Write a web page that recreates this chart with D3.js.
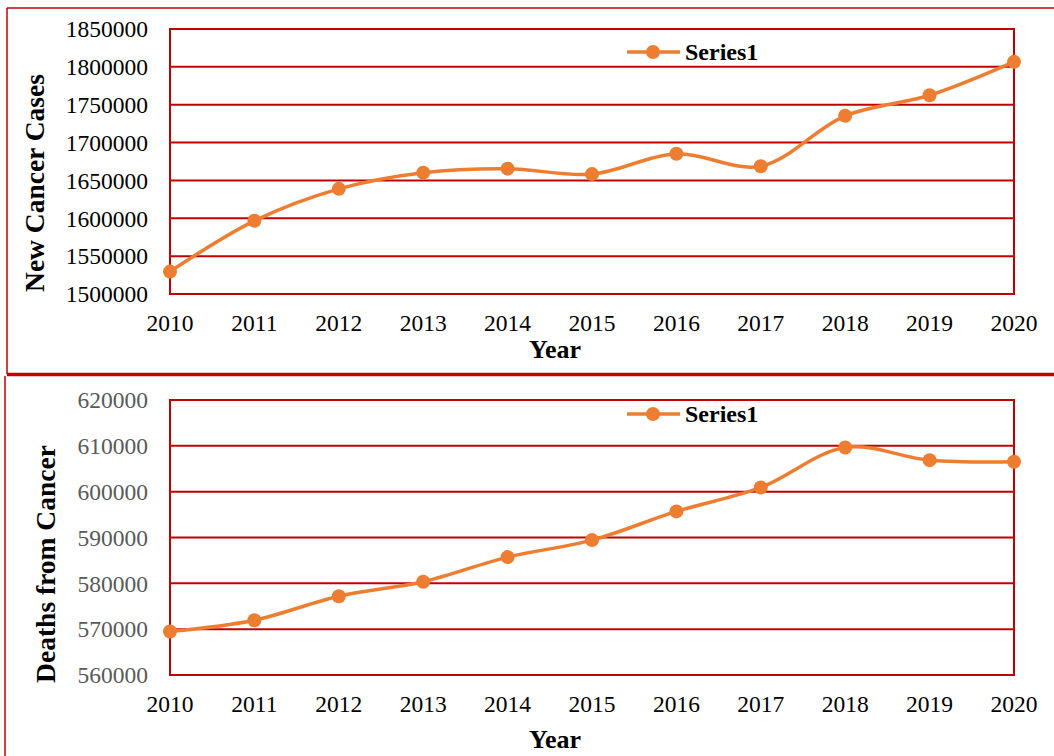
<!DOCTYPE html>
<html>
<head>
<meta charset="utf-8">
<script src="https://cdn.jsdelivr.net/npm/d3@7"></script>
<style>
  body { margin: 0; background: #fff; }
  svg text { font-family: "Liberation Serif", "Times New Roman", serif; }
</style>
</head>
<body>
<svg id="chart" width="1054" height="756"></svg>
<script>
/* data */
var years = [2010, 2011, 2012, 2013, 2014, 2015, 2016, 2017, 2018, 2019, 2020];
var newCases = [1529560, 1596670, 1638910, 1660290, 1665540, 1658370, 1685210, 1668780, 1735350, 1762450, 1806590];
var deaths = [569490, 571950, 577190, 580350, 585720, 589430, 595690, 600920, 609640, 606880, 606520];
var casesTicks = [1500000, 1550000, 1600000, 1650000, 1700000, 1750000, 1800000, 1850000];
var deathTicks = [560000, 570000, 580000, 590000, 600000, 610000, 620000];

var svg = d3.select('#chart');
var red = '#C00000';
var orange = '#ED7D31';

/* panel frames */
svg.append('line').attr('x1', 7).attr('y1', 8).attr('x2', 1054).attr('y2', 8)
  .attr('stroke', red).attr('stroke-width', 1.5);
svg.append('line').attr('x1', 7).attr('y1', 8).attr('x2', 7).attr('y2', 374)
  .attr('stroke', red).attr('stroke-width', 1.5);
svg.append('line').attr('x1', 5).attr('y1', 376).attr('x2', 5).attr('y2', 756)
  .attr('stroke', red).attr('stroke-width', 1.5);
svg.append('line').attr('x1', 7).attr('y1', 374.5).attr('x2', 1054).attr('y2', 374.5)
  .attr('stroke', red).attr('stroke-width', 3.5);

var drawPanel = function(cfg) {
  var x = d3.scalePoint().domain(years).range([170, 1014]);
  var y = d3.scaleLinear().domain(d3.extent(cfg.ticks)).range([cfg.bottom, cfg.top]);
  var g = svg.append('g');

  // gridlines
  g.selectAll('.grid').data(cfg.ticks).enter().append('line')
    .attr('x1', 170).attr('x2', 1014)
    .attr('y1', function(d) { return y(d); }).attr('y2', function(d) { return y(d); })
    .attr('stroke', red).attr('stroke-width', 2);
  g.append('rect').attr('x', 170).attr('y', cfg.top)
    .attr('width', 844).attr('height', cfg.bottom - cfg.top)
    .attr('fill', 'none').attr('stroke', red).attr('stroke-width', 2);

  // y tick labels
  g.selectAll('.ylab').data(cfg.ticks).enter().append('text')
    .attr('x', 148).attr('y', function(d) { return y(d); })
    .attr('dy', '0.35em').attr('text-anchor', 'end')
    .attr('font-size', 23.5).attr('fill', cfg.ylabColor)
    .text(function(d) { return d; });

  // x tick labels
  g.selectAll('.xlab').data(years).enter().append('text')
    .attr('x', function(d) { return x(d); }).attr('y', cfg.bottom + 37)
    .attr('text-anchor', 'middle').attr('font-size', 23.5).attr('fill', '#000')
    .text(function(d) { return d; });

  // axis titles
  g.append('text').attr('x', 555).attr('y', cfg.bottom + cfg.yearDy)
    .attr('text-anchor', 'middle').attr('font-size', 26).attr('font-weight', 'bold')
    .text('Year');
  g.append('text')
    .attr('transform', 'translate(' + cfg.titleX + ',' + cfg.titleY + ') rotate(-90)')
    .attr('text-anchor', 'middle').attr('font-size', 27.5).attr('font-weight', 'bold')
    .text(cfg.title);

  // series
  var line = d3.line()
    .x(function(d, i) { return x(years[i]); })
    .y(function(d) { return y(d); })
    .curve(d3.curveCatmullRom.alpha(0.5));
  g.append('path').datum(cfg.values).attr('d', line)
    .attr('fill', 'none').attr('stroke', orange).attr('stroke-width', 3.5);
  g.selectAll('.dot').data(cfg.values).enter().append('circle')
    .attr('cx', function(d, i) { return x(years[i]); })
    .attr('cy', function(d) { return y(d); })
    .attr('r', 7).attr('fill', orange);

  // legend
  g.append('line').attr('x1', 627).attr('x2', 680)
    .attr('y1', cfg.legendY).attr('y2', cfg.legendY)
    .attr('stroke', orange).attr('stroke-width', 3.5);
  g.append('circle').attr('cx', 653).attr('cy', cfg.legendY).attr('r', 7).attr('fill', orange);
  g.append('text').attr('x', 685).attr('y', cfg.legendY).attr('dy', '0.35em')
    .attr('font-size', 24).attr('font-weight', 'bold').text('Series1');
};

drawPanel({ values: newCases, ticks: casesTicks, top: 29, bottom: 294,
  ylabColor: '#000', title: 'New Cancer Cases', titleX: 44, titleY: 183,
  yearDy: 64, legendY: 52 });
drawPanel({ values: deaths, ticks: deathTicks, top: 400, bottom: 675,
  ylabColor: '#595959', title: 'Deaths from Cancer', titleX: 55, titleY: 564,
  yearDy: 73, legendY: 414 });
</script>
</body>
</html>
